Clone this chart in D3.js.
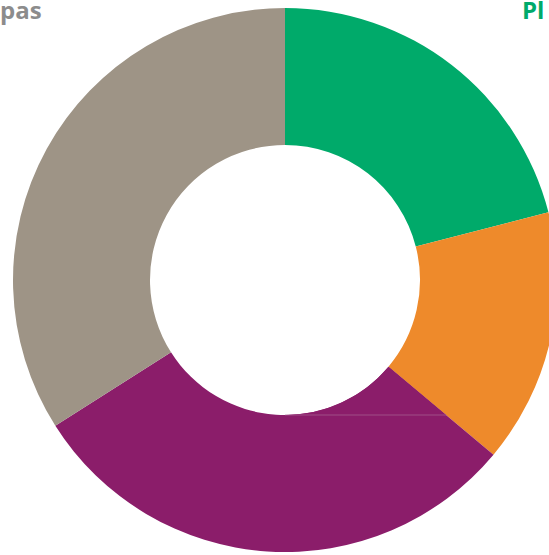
<!DOCTYPE html>
<html>
<head>
<meta charset="utf-8">
<script src="https://cdn.jsdelivr.net/npm/d3@7"></script>
<style>
  html, body { margin: 0; padding: 0; background: #fff; overflow: hidden; }
  svg { display: block; }
  .lbl { font-family: "Open Sans", "Liberation Sans", sans-serif; font-weight: bold; font-size: 24px; }
</style>
</head>
<body>
<div id="chart"></div>
<script>
// slice data, clockwise from 12 o'clock
var categories = ["Pl", "orange", "purple", "pas"];
var values = [21, 15.1, 29.9, 34];
var colors = ["#00aa6a", "#ee8a2b", "#8b1d6a", "#9e9486"];

var width = 549, height = 555;
var cx = 285, cy = 280;
var outerR = 272, innerR = 135;

var svg = d3.select("#chart").append("svg")
    .attr("width", width)
    .attr("height", height);

var g = svg.append("g")
    .attr("transform", "translate(" + cx + "," + cy + ")");

var pie = d3.pie().sort(null).value(function(d) { return d; });
var arcs = pie(values);

var arc = d3.arc()
    .innerRadius(innerR)
    .outerRadius(outerR);

g.selectAll("path.slice")
    .data(arcs)
    .enter().append("path")
    .attr("class", "slice")
    .attr("fill", function(d, i) { return colors[i]; })
    .attr("d", arc);

// the purple slice spills into the hole down to the tangent at the bottom
var p = arcs[2];
var a0 = p.startAngle;             // orange/purple boundary
var tanY = innerR;                 // tangent line at the bottom of the hole
var tanX = tanY * Math.tan(Math.PI - a0);
var extra = d3.path();
extra.moveTo(tanX, tanY);
extra.lineTo(0, tanY);
extra.arc(0, 0, innerR, Math.PI / 2, a0 - Math.PI / 2, true);
extra.closePath();
g.append("path")
    .attr("d", extra.toString())
    .attr("fill", colors[2]);

// faint seam where the two purple pieces meet
g.append("line")
    .attr("x1", 0).attr("y1", tanY)
    .attr("x2", tanX).attr("y2", tanY)
    .attr("stroke", "#b0709c")
    .attr("stroke-width", 0.6);

// labels in the top corners
svg.append("text")
    .attr("class", "lbl")
    .attr("x", 0)
    .attr("y", 19)
    .attr("fill", "#8c8c8c")
    .text(categories[3]);

svg.append("text")
    .attr("class", "lbl")
    .attr("x", 522)
    .attr("y", 19)
    .attr("fill", colors[0])
    .text(categories[0]);
</script>
</body>
</html>
